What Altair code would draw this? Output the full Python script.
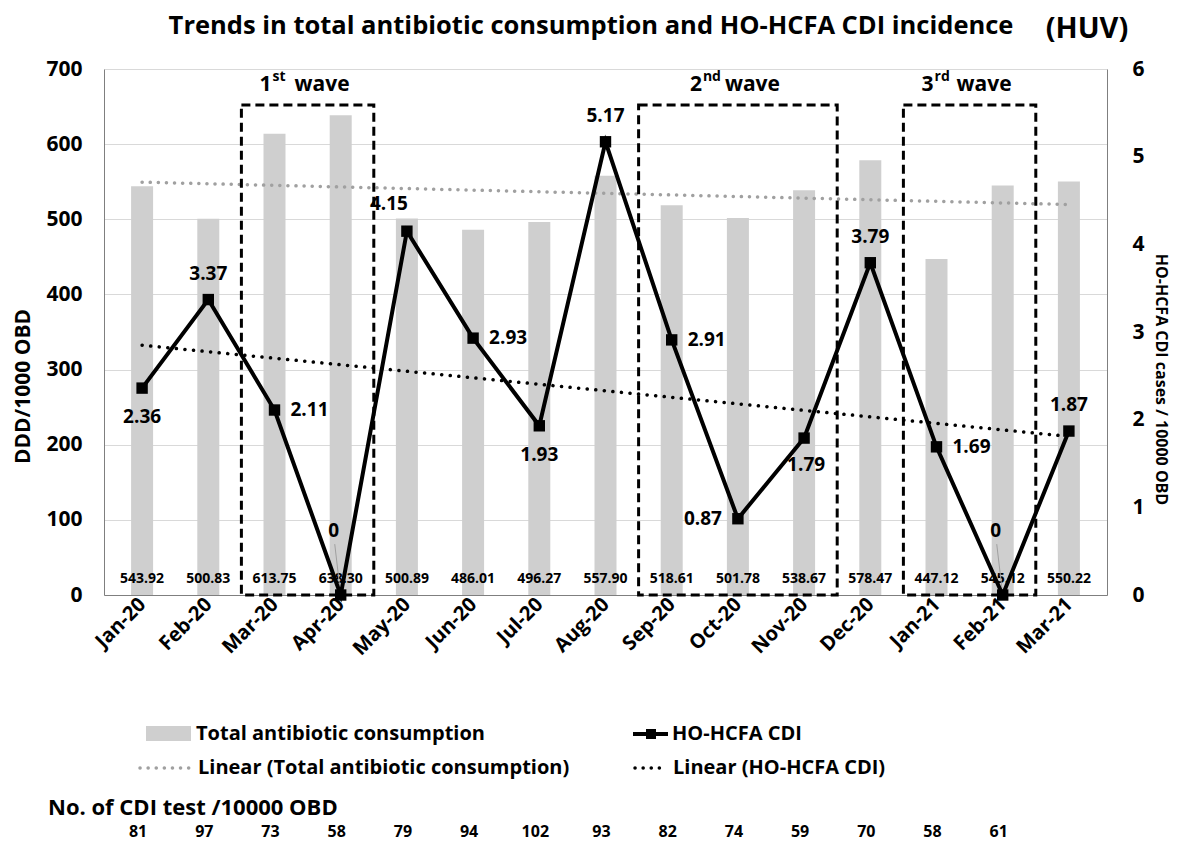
import json
import altair as alt
import pandas as pd

# ---------------- data ----------------
MONTHS = ["Jan-20", "Feb-20", "Mar-20", "Apr-20", "May-20", "Jun-20", "Jul-20",
          "Aug-20", "Sep-20", "Oct-20", "Nov-20", "Dec-20", "Jan-21", "Feb-21", "Mar-21"]
CONSUMPTION = [543.92, 500.83, 613.75, 638.30, 500.89, 486.01, 496.27, 557.90,
               518.61, 501.78, 538.67, 578.47, 447.12, 545.12, 550.22]
CDI = [2.36, 3.37, 2.11, 0, 4.15, 2.93, 1.93, 5.17, 2.91, 0.87, 1.79, 3.79, 1.69, 0, 1.87]
CDI_TEXT = ["2.36", "3.37", "2.11", "0", "4.15", "2.93", "1.93", "5.17", "2.91",
            "0.87", "1.79", "3.79", "1.69", "0", "1.87"]
TESTS = [81, 97, 73, 58, 79, 94, 102, 93, 82, 74, 59, 70, 58, 61]
WAVE_NUM = ["1", "2", "3"]
WAVE_SUP = ["st", "nd", "rd"]
WAVE_FIRST = [2, 8, 12]
WAVE_LAST = [3, 10, 13]
LABEL_PLACE = ["below", "above", "right", "far", "aboveleft", "right", "below", "above",
               "right", "left", "belowright", "above", "right", "far", "above"]

FONT = "Open Sans"
W, H = 1003, 526
BAR_GREY = "#cfcfcf"
AXIS_GREY = "#7f7f7f"

df = pd.DataFrame({"idx": list(range(len(MONTHS))), "month": MONTHS, "cons": CONSUMPTION,
                   "cdi": CDI, "lab": CDI_TEXT, "place": LABEL_PLACE})
tests_df = pd.DataFrame({"idx": list(range(len(TESTS))), "n": TESTS})
waves_df = pd.DataFrame({"num": WAVE_NUM, "sup": WAVE_SUP, "first": WAVE_FIRST, "last": WAVE_LAST})
one = pd.DataFrame({"k": [0]})

label_expr = json.dumps(MONTHS) + "[datum.value]"
x_scale = alt.Scale(domain=[-0.5, len(MONTHS) - 0.5], nice=False, zero=False)
x_axis = alt.Axis(values=list(range(len(MONTHS))), labelExpr=label_expr, title=None,
                  ticks=False, grid=False, domainColor=AXIS_GREY, labelAngle=-45,
                  labelAlign="right", labelBaseline="middle", labelFont=FONT,
                  labelFontSize=20, labelFontWeight="bold", labelColor="black",
                  labelPadding=6, labelOverlap=False)


def X(field="idx"):
    return alt.X(f"{field}:Q", scale=x_scale, axis=x_axis)


left_scale = alt.Scale(domain=[0, 700], nice=False)
left_axis = alt.Axis(values=list(range(0, 701, 100)), title="DDD/1000 OBD",
                     titleFont=FONT, titleFontSize=21, titleFontWeight="bold",
                     titleColor="black", labelFont=FONT, labelFontSize=21,
                     labelFontWeight="bold", labelColor="black", labelPadding=22,
                     titlePadding=12, titleY=317, ticks=False, gridColor="#d9d9d9",
                     domainColor=AXIS_GREY)
right_scale = alt.Scale(domain=[0, 6], nice=False)
right_axis = alt.Axis(orient="right", values=list(range(0, 7)),
                      title="HO-HCFA CDI cases / 10000 OBD", titleFont=FONT,
                      titleFontSize=16, titleFontWeight="bold", titleColor="black",
                      labelFont=FONT, labelFontSize=21, labelFontWeight="bold",
                      labelColor="black", labelPadding=25, titlePadding=8, titleY=310,
                      ticks=False, grid=False, domainColor=AXIS_GREY)


def YL(field="cons"):
    return alt.Y(f"{field}:Q", scale=left_scale, axis=left_axis)


def YLd(v):
    return alt.Y(datum=v, scale=left_scale, axis=left_axis)


def YR(field="cdi"):
    return alt.Y(f"{field}:Q", scale=right_scale, axis=right_axis)


# ---------------- left (DDD) group ----------------
bars = alt.Chart(df).mark_bar(size=22, color=BAR_GREY).encode(x=X(), y=YL())

bar_trend = alt.Chart(df).transform_regression(
    "idx", "cons", extent=[0, len(MONTHS) - 1]
).mark_line(color="#a0a0a0", strokeWidth=3.5, strokeDash=[0.1, 8], strokeCap="round").encode(
    x=X(), y=YL())

bar_labels = alt.Chart(df).mark_text(font=FONT, fontSize=14, fontWeight="bold", color="black").encode(
    x=X(), y=alt.value(H - 16), text=alt.Text("cons:Q", format=".2f"))

boxes = alt.Chart(waves_df).transform_calculate(
    x1="datum.first - 0.5", x2="datum.last + 0.5"
).mark_rect(fillOpacity=0, stroke="black", strokeWidth=3, strokeDash=[9, 5]).encode(
    x=X("x1"), x2="x2:Q", y=YLd(0), y2=alt.Y2(datum=652))

wave_base = alt.Chart(waves_df).transform_calculate(mid="(datum.first + datum.last) / 2")
wave_num = wave_base.mark_text(font=FONT, fontSize=21, fontWeight="bold", align="right", dx=-36,
                               color="black").encode(x=X("mid"), y=YLd(679), text="num:N")
wave_sup = wave_base.mark_text(font=FONT, fontSize=14, fontWeight="bold", align="left", dx=-35,
                               dy=-8, color="black").encode(x=X("mid"), y=YLd(679), text="sup:N")
wave_word = wave_base.mark_text(font=FONT, fontSize=21, fontWeight="bold", align="left", dx=-13,
                                color="black").encode(x=X("mid"), y=YLd(679),
                                                      text=alt.value("wave"))

left = alt.layer(bars, bar_trend, bar_labels, boxes, wave_num, wave_sup, wave_word)

# ---------------- right (CDI) group ----------------
cdi_trend = alt.Chart(df).transform_regression(
    "idx", "cdi", extent=[0, len(MONTHS) - 1]
).mark_line(color="black", strokeWidth=3.5, strokeDash=[0.1, 8.5], strokeCap="round").encode(
    x=X(), y=YR())

leader = alt.Chart(df).transform_filter("datum.place == 'far'").transform_calculate(
    xa="datum.idx - 0.09", ya="datum.cdi + 0.58"
).mark_rule(color="#a0a0a0", strokeWidth=1).encode(
    x=X("xa"), x2="idx:Q", y=YR("ya"), y2="cdi:Q")

cdi_line = alt.Chart(df).mark_line(color="black", strokeWidth=4).encode(x=X(), y=YR())
cdi_pts = alt.Chart(df).mark_point(shape="square", filled=True, size=130, color="black",
                                   opacity=1).encode(x=X(), y=YR())

PLACE_STYLE = {
    "above": dict(dy=-26, align="center"),
    "below": dict(dy=29, align="center"),
    "right": dict(dx=16, align="left"),
    "left": dict(dx=-16, align="right"),
    "aboveleft": dict(dx=-18, dy=-27, align="center"),
    "belowright": dict(dx=2, dy=27, align="center"),
    "far": dict(dx=-7, dy=-64, align="center"),
}
cdi_labels = [
    alt.Chart(df).transform_filter(f"datum.place == '{p}'").mark_text(
        font=FONT, fontSize=19, fontWeight="bold", color="black", baseline="middle", **st
    ).encode(x=X(), y=YR(), text="lab:N")
    for p, st in PLACE_STYLE.items()
]

right = alt.layer(cdi_trend, leader, cdi_line, cdi_pts, *cdi_labels)


# ---------------- legend, titles, test counts ----------------
def txt(s, x, y, size, align="left", **kw):
    return alt.Chart(one).mark_text(font=FONT, fontSize=size, fontWeight="bold", color="black",
                                    align=align, baseline="middle", **kw).encode(
        x=alt.value(x), y=alt.value(y), text=alt.value(s))


legend = alt.layer(
    alt.Chart(one).mark_rect(color=BAR_GREY).encode(
        x=alt.value(42), x2=alt.value(87), y=alt.value(657), y2=alt.value(672)),
    txt("Total antibiotic consumption", 92, 665, 20),
    alt.Chart(one).mark_rule(color="black", strokeWidth=4).encode(
        x=alt.value(529), x2=alt.value(564), y=alt.value(665)),
    alt.Chart(one).mark_point(shape="square", filled=True, size=100, color="black",
                              opacity=1).encode(x=alt.value(547), y=alt.value(665)),
    txt("HO-HCFA CDI", 568, 665, 20),
    alt.Chart(one).mark_rule(color="#a0a0a0", strokeWidth=3.5, strokeDash=[0.1, 8],
                             strokeCap="round").encode(
        x=alt.value(36), x2=alt.value(86), y=alt.value(699)),
    txt("Linear (Total antibiotic consumption)", 94, 699, 20),
    alt.Chart(one).mark_rule(color="black", strokeWidth=3.5, strokeDash=[0.1, 8],
                             strokeCap="round").encode(
        x=alt.value(531), x2=alt.value(563), y=alt.value(699)),
    txt("Linear (HO-HCFA CDI)", 569, 699, 20),
    txt("No. of CDI test /10000 OBD", -56, 739, 22),
    alt.Chart(tests_df).mark_text(font=FONT, fontSize=16, fontWeight="bold", color="black",
                                  dx=-4).encode(x=X(), y=alt.value(763), text="n:Q"),
    txt("Trends in total antibiotic consumption and HO-HCFA CDI incidence", 487, -43, 25.5,
        align="center"),
    txt("(HUV)", 983, -40, 29, align="center"),
)

chart = alt.layer(left, right, legend).resolve_scale(y="independent").properties(
    width=W, height=H, padding={"left": 4, "top": 6, "right": 3, "bottom": 2}
).configure_view(stroke=None)

chart.save("out.html", embed_options={"renderer": "svg", "actions": False})
